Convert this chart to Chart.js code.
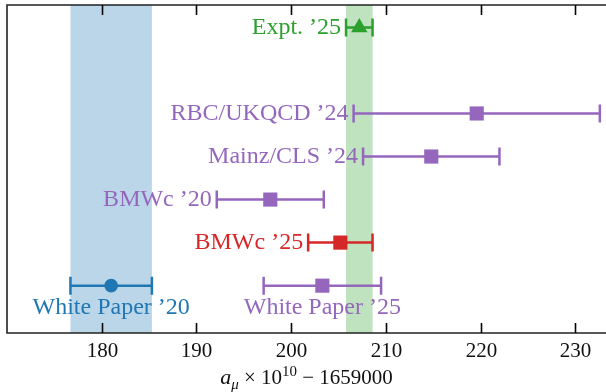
<!DOCTYPE html>
<html>
<head>
<meta charset="utf-8">
<script src="https://cdn.jsdelivr.net/npm/chart.js@4"></script>
<style>
  html, body { margin: 0; padding: 0; overflow: hidden; background: #fff; }
  #wrap { width: 606px; height: 392px; position: relative; }
</style>
</head>
<body>
<div id="wrap"><canvas id="chart"></canvas></div>
<script>
// data
const categories = ['Expt. ’25', 'RBC/UKQCD ’24', 'Mainz/CLS ’24', 'BMWc ’20', 'BMWc ’25', 'White Paper ’20', 'White Paper ’25'];
const rows = [6, 4, 3, 2, 1, 0, 0];
const centers = [207.2, 219.6, 214.8, 197.8, 205.2, 181.0, 203.3];
const errors = [1.4, 13.0, 7.2, 5.65, 3.4, 4.3, 6.2];
const xTicks = [180, 190, 200, 210, 220, 230];
const bandItems = ['White Paper ’20', 'Expt. ’25'];

// styles
const colors = ['#2ca02c', '#9467bd', '#9467bd', '#9467bd', '#d62728', '#1f77b4', '#9467bd'];
const markers = ['triangle', 'rect', 'rect', 'rect', 'rect', 'circle', 'rect'];
const radii = [9.5, 10, 10, 10, 10, 6.8, 10];
const labelBelow = [false, false, false, false, false, true, true];
const bandColors = { 'White Paper ’20': 'rgba(31,119,180,0.3)', 'Expt. ’25': 'rgba(44,160,44,0.3)' };
const serif = "'Liberation Serif', 'DejaVu Serif', serif";

const decorations = {
  id: 'decorations',
  beforeDatasetsDraw(chart) {
    const { ctx, chartArea: a, scales: { x, y } } = chart;
    ctx.save();
    ctx.beginPath();
    ctx.rect(a.left, a.top, a.right - a.left, a.bottom - a.top);
    ctx.clip();
    bandItems.forEach((name) => {
      const i = categories.indexOf(name);
      const x0 = x.getPixelForValue(centers[i] - errors[i]);
      const x1 = x.getPixelForValue(centers[i] + errors[i]);
      ctx.fillStyle = bandColors[name];
      ctx.fillRect(x0, a.top, x1 - x0, a.bottom - a.top);
    });
    categories.forEach((name, i) => {
      const yy = y.getPixelForValue(rows[i]);
      const x0 = x.getPixelForValue(centers[i] - errors[i]);
      const x1 = x.getPixelForValue(centers[i] + errors[i]);
      ctx.strokeStyle = colors[i];
      ctx.lineWidth = 2.5;
      ctx.beginPath();
      ctx.moveTo(x0, yy); ctx.lineTo(x1, yy);
      ctx.moveTo(x0, yy - 9); ctx.lineTo(x0, yy + 9);
      ctx.moveTo(x1, yy - 9); ctx.lineTo(x1, yy + 9);
      ctx.stroke();
    });
    ctx.restore();
  },
  afterDatasetsDraw(chart) {
    const { ctx, chartArea: a, scales: { x, y } } = chart;
    ctx.save();
    // point labels
    ctx.font = `24px ${serif}`;
    categories.forEach((name, i) => {
      const yy = y.getPixelForValue(rows[i]);
      ctx.fillStyle = colors[i];
      ctx.textBaseline = 'middle';
      if (labelBelow[i]) {
        ctx.textAlign = 'center';
        ctx.fillText(name, x.getPixelForValue(centers[i]), yy + 22);
      } else {
        ctx.textAlign = 'right';
        ctx.fillText(name, x.getPixelForValue(centers[i] - errors[i]) - 5, yy);
      }
    });
    // frame (right spine sits just past the canvas edge)
    ctx.strokeStyle = '#222';
    ctx.lineWidth = 1.6;
    ctx.beginPath();
    ctx.moveTo(a.right + 2, a.top); ctx.lineTo(a.left, a.top);
    ctx.lineTo(a.left, a.bottom); ctx.lineTo(a.right + 2, a.bottom);
    ctx.stroke();
    // inward ticks + labels
    ctx.strokeStyle = '#000';
    ctx.fillStyle = '#111';
    ctx.font = `21px ${serif}`;
    ctx.textAlign = 'center';
    ctx.textBaseline = 'middle';
    xTicks.forEach((t) => {
      const px = Math.round(x.getPixelForValue(t)) + 0.5;
      ctx.beginPath();
      ctx.moveTo(px, a.bottom); ctx.lineTo(px, a.bottom - 10);
      ctx.moveTo(px, a.top); ctx.lineTo(px, a.top + 10);
      ctx.stroke();
      ctx.fillText(String(t), px, a.bottom + 18);
    });
    // axis title: a_mu x 10^10 - 1659000
    const parts = [
      { t: 'a', f: `italic 22px ${serif}`, dy: 0 },
      { t: 'μ', f: `italic 15px ${serif}`, dy: 5 },
      { t: ' × 10', f: `21px ${serif}`, dy: 0 },
      { t: '10', f: `15px ${serif}`, dy: -8 },
      { t: ' − 1659000', f: `21px ${serif}`, dy: 0 },
    ];
    let total = 0;
    parts.forEach((p) => { ctx.font = p.f; p.w = ctx.measureText(p.t).width; total += p.w; });
    let cx = (a.left + a.right) / 2 - total / 2;
    const ty = a.bottom + 51;
    ctx.textAlign = 'left';
    ctx.textBaseline = 'alphabetic';
    parts.forEach((p) => {
      ctx.font = p.f;
      ctx.fillText(p.t, cx, ty + p.dy);
      cx += p.w;
    });
    ctx.restore();
  },
};

new Chart(document.getElementById('chart'), {
  type: 'scatter',
  data: {
    datasets: [{
      data: centers.map((c, i) => ({ x: c, y: rows[i] })),
      pointStyle: markers,
      pointRadius: radii,
      backgroundColor: colors,
      borderColor: colors,
      borderWidth: 0,
      showLine: false,
      clip: false,
    }],
  },
  options: {
    responsive: true,
    maintainAspectRatio: false,
    animation: false,
    layout: { autoPadding: false, padding: { left: 7, top: 5, right: 0, bottom: 59 } },
    plugins: { legend: { display: false }, tooltip: { enabled: false } },
    scales: {
      x: { type: 'linear', min: 170, max: 233.25, display: false },
      y: { type: 'linear', min: -1.1, max: 6.52, display: false },
    },
  },
  plugins: [decorations],
});
</script>
</body>
</html>
